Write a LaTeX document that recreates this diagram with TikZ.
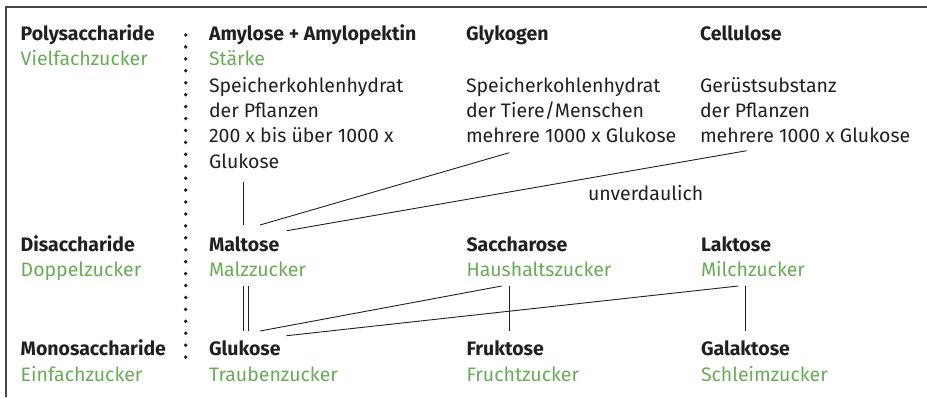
\documentclass[tikz,border=0pt]{standalone}
\usepackage{fontspec}
\setmainfont{Fira Sans}
\definecolor{grn}{RGB}{104,172,86}
\definecolor{ink}{RGB}{35,31,32}
\definecolor{framec}{RGB}{70,70,70}
\begin{document}
\begin{tikzpicture}[x=1pt,y=-1pt,
  every node/.style={inner sep=0pt, outer sep=0pt, anchor=base west,
    font=\fontsize{19.5}{25}\selectfont, text=ink},
  hd/.style={font=\fontsize{19.5}{25}\selectfont\bfseries},
  gr/.style={text=grn},
  conn/.style={draw=ink, line width=0.9pt},
  framel/.style={draw=framec, line width=1.3pt}]
\useasboundingbox (0,0) rectangle (927,397);
% frame
\draw[framel] (927,7) -- (6,7) -- (6,397);
% dotted separator
\foreach \i in {0,...,27} \fill[ink] (185.7,35+\i*11.93) circle (1.9);
% left column
\node[hd] (poly) at (20.7,40) {Polysaccharide};
\node[gr] (polyg) at (20.7,65.7) {Vielfachzucker};
\node[hd] (di) at (20.7,251.7) {Disaccharide};
\node[gr] (dig) at (20.7,276.5) {Doppelzucker};
\node[hd] (mono) at (20.7,355) {Monosaccharide};
\node[gr] (monog) at (20.7,381.5) {Einfachzucker};
% polysaccharides
\node[hd] (amy) at (209,40) {Amylose + Amylopektin};
\node[gr] (amyg) at (209,65.7) {Stärke};
\node (amyd1) at (209,92.5) {Speicherkohlenhydrat};
\node (amyd2) at (209,117.5) {der Pflanzen};
\node (amyd3) at (209,142.7) {200 x bis über 1000 x};
\node (amyd4) at (209,168) {Glukose};
\node[hd] (gly) at (466,40) {Glykogen};
\node (glyd1) at (466,92.5) {Speicherkohlenhydrat};
\node (glyd2) at (466,117.5) {der Tiere/Menschen};
\node (glyd3) at (466,142.7) {mehrere 1000 x Glukose};
\node[hd] (cel) at (700,40) {Cellulose};
\node (celd1) at (700,92.5) {Gerüstsubstanz};
\node (celd2) at (700,117.5) {der Pflanzen};
\node (celd3) at (700,142.7) {mehrere 1000 x Glukose};
\node (unv) at (588,200.7) {unverdaulich};
% disaccharides
\node[hd] (mal) at (209,251.7) {Maltose};
\node[gr] (malg) at (209,276.5) {Malzzucker};
\node[hd] (sac) at (466.5,251.7) {Saccharose};
\node[gr] (sacg) at (466.5,276.5) {Haushaltszucker};
\node[hd] (lak) at (701,251.7) {Laktose};
\node[gr] (lakg) at (701,276.5) {Milchzucker};
% monosaccharides
\node[hd] (glu) at (209,355) {Glukose};
\node[gr] (glug) at (209,381.5) {Traubenzucker};
\node[hd] (fru) at (466.5,355) {Fruktose};
\node[gr] (frug) at (466.5,381.5) {Fruchtzucker};
\node[hd] (gal) at (701,355) {Galaktose};
\node[gr] (galg) at (701,381.5) {Schleimzucker};
% connector end points
\coordinate (amyB) at (243.3,181.7);
\coordinate (malT1) at (243.3,225);
\coordinate (glyB) at (509.3,152.7);
\coordinate (malT2) at (260,225);
\coordinate (celB) at (746.7,150.7);
\coordinate (malT3) at (286.7,230.7);
\coordinate (malB1) at (243.3,286);
\coordinate (gluT1) at (243.3,331);
\coordinate (malB2) at (248.3,286);
\coordinate (gluT2) at (248.3,331);
\coordinate (sacB1) at (501.7,286);
\coordinate (gluT3) at (260,331);
\coordinate (lakB1) at (738.3,286);
\coordinate (gluT4) at (286.7,335.7);
\coordinate (sacB2) at (509.3,286);
\coordinate (fruT) at (509.3,330.7);
\coordinate (lakB2) at (745,286);
\coordinate (galT) at (745,331);
% connectors
\draw[conn] (amyB) -- (malT1);
\draw[conn] (glyB) -- (malT2);
\draw[conn] (celB) -- (malT3);
\draw[conn] (malB1) -- (gluT1);
\draw[conn] (malB2) -- (gluT2);
\draw[conn] (sacB1) -- (gluT3);
\draw[conn] (lakB1) -- (gluT4);
\draw[conn] (sacB2) -- (fruT);
\draw[conn] (lakB2) -- (galT);
\end{tikzpicture}
\end{document}
